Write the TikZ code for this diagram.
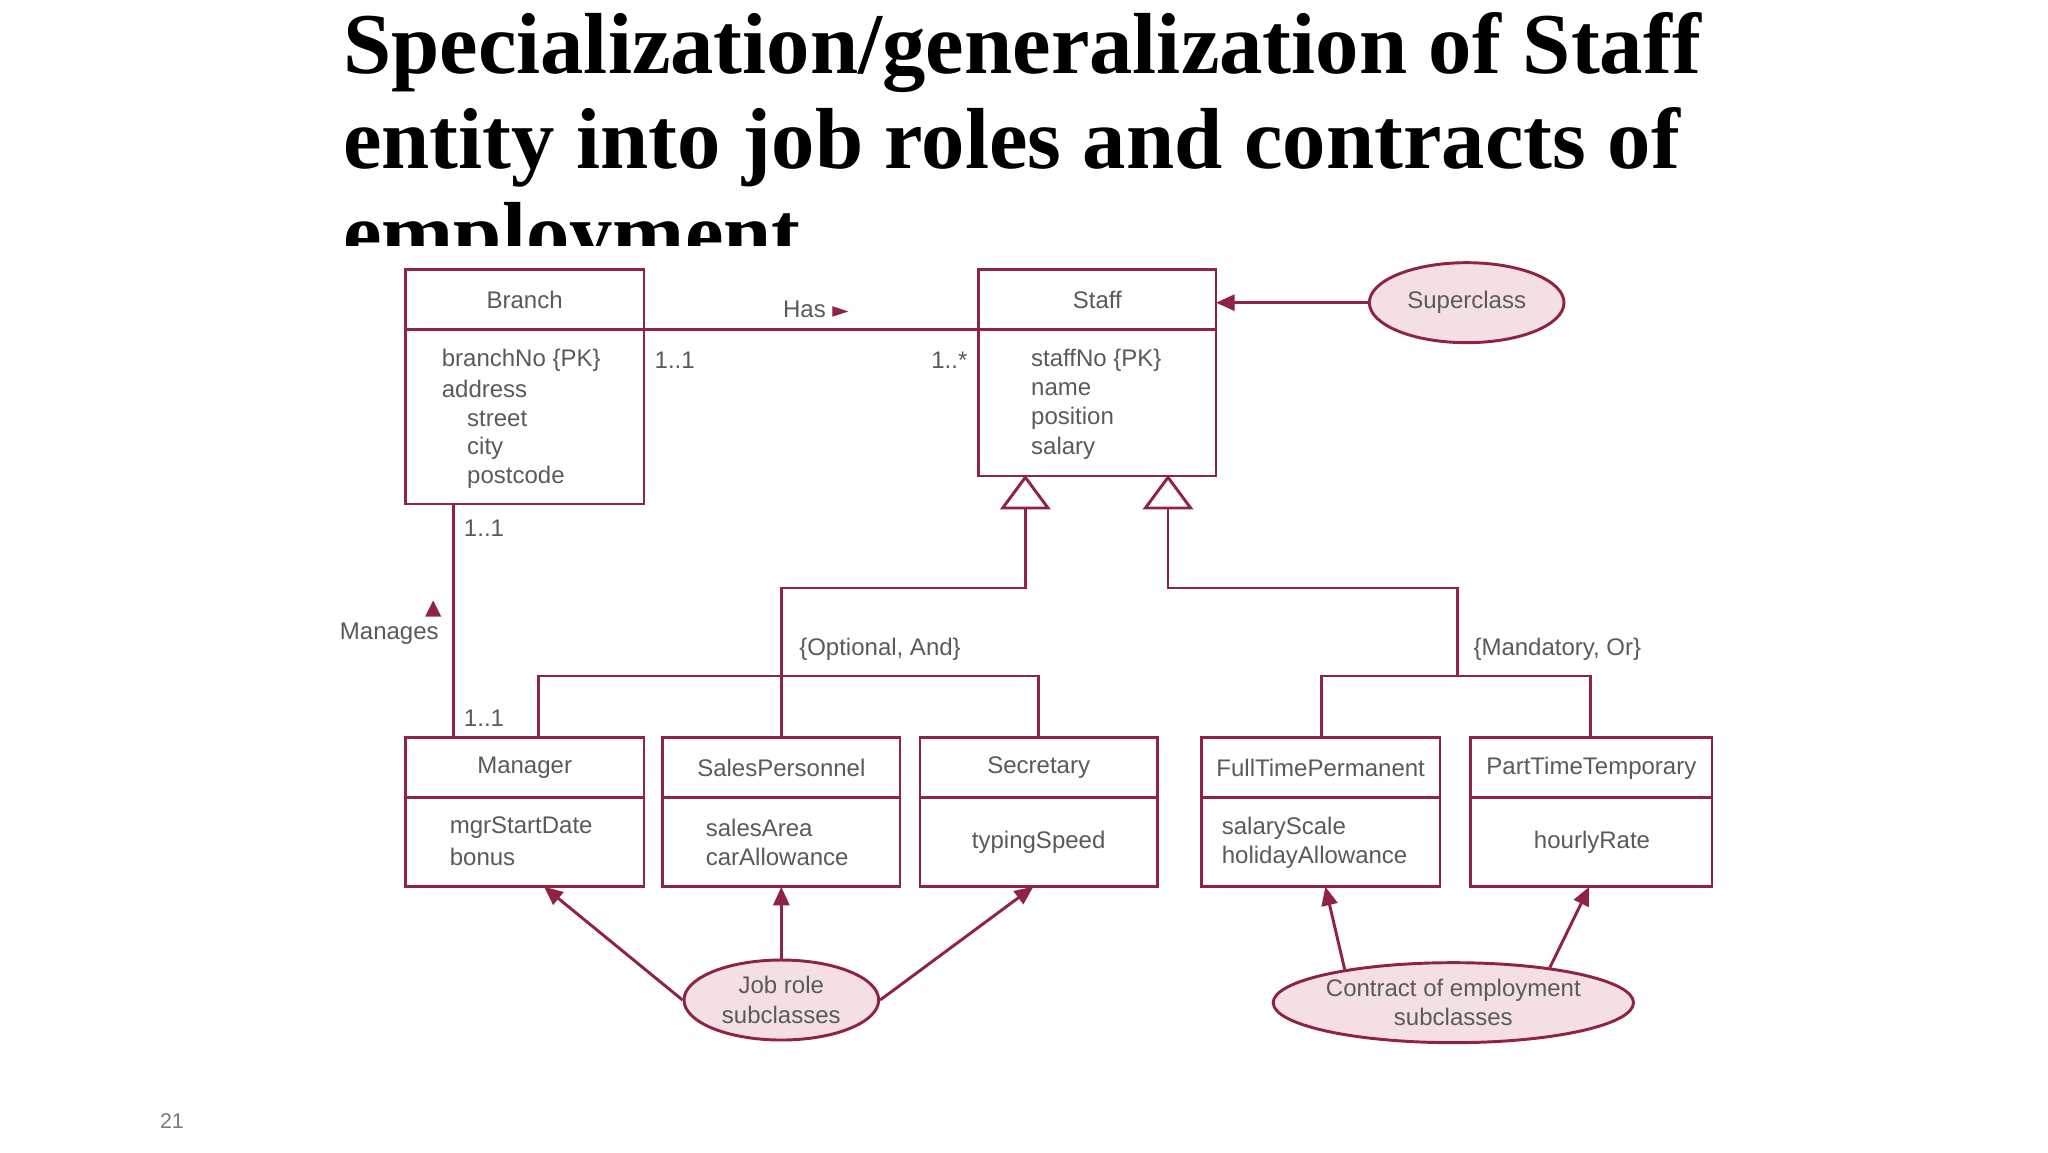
\documentclass[tikz,border=0pt]{standalone}
\usepackage{fontspec}
\setmainfont{Liberation Serif}
\newfontfamily\dsans{Liberation Sans}
\newfontfamily\dvs{DejaVu Sans}
\usetikzlibrary{arrows.meta,shapes.geometric}
\definecolor{mar}{HTML}{8E2344}
\definecolor{pinkf}{HTML}{F4E0E3}
\definecolor{txt}{HTML}{5A5A5A}
\tikzset{
 box/.style={draw=mar,line width=1.1pt,minimum width=89pt,inner sep=0pt},
 lnk/.style={draw=mar,line width=1.1pt},
 arr/.style={lnk,-{Triangle[length=7pt,width=6pt]}},
 ell/.style={ellipse,draw=mar,fill=pinkf,line width=1.1pt,inner sep=0pt,text=txt,font=\dsans\fontsize{9}{11}\selectfont,align=center},
 lab/.style={text=txt,font=\dsans\fontsize{9}{11}\selectfont,inner sep=0pt},
 att/.style={lab,anchor=west,align=left},
}
\begin{document}
\begin{tikzpicture}[x=0.5pt,y=-0.5pt]
\useasboundingbox[fill=white] (0,0) rectangle (1536,864);
% title
\begin{scope}
\clip (0,0) rectangle (1552,184);
\node[anchor=north west,align=left,inner sep=0pt,font=\bfseries\fontsize{32.5}{35.5}\selectfont] (title) at (257,9)
 {Specialization/generalization of Staff\\entity into job roles and contracts of\\employment};
\end{scope}
\node[text=txt!80,font=\dsans\fontsize{8}{9}\selectfont] (pg) at (129,841) {21};
% class boxes
\newcommand\umlbox[6]{% name, x1, y1, x2, y2, title
 \node[box,minimum width=#4*0.5pt-#2*0.5pt,minimum height=#5*0.5pt-#3*0.5pt] (#1) at ({(#2+#4)/2},{(#3+#5)/2}) {};
 \draw[lnk] (#2,#3+45) -- (#4,#3+45);
 \node[lab] (#1t) at ({(#2+#4)/2},#3+23) {#6};}
\umlbox{branch}{304}{202}{483}{378}{Branch}
\umlbox{staff}{734}{202}{912}{357}{Staff}
\umlbox{mgr}{304}{553}{483}{665}{Manager}
\umlbox{sales}{497}{553}{675}{665}{SalesPersonnel}
\umlbox{sec}{690}{553}{868}{665}{Secretary}
\umlbox{ftp}{901}{553}{1080}{665}{FullTimePermanent}
\umlbox{ptt}{1103}{553}{1284}{665}{PartTimeTemporary}
% attributes
\node[att] (ba) at (331,270) {branchNo \{PK\}};
\node[att] (bb) at (331,292) {address};
\node[att] (bc) at (350,314) {street};
\node[att] (bd) at (350,336) {city};
\node[att] (be) at (350,358) {postcode};
\node[att] (sa) at (773,270) {staffNo \{PK\}};
\node[att] (sb) at (773,292) {name};
\node[att] (sc) at (773,314) {position};
\node[att] (sd) at (773,336) {salary};
\node[att] (ma) at (337,621) {mgrStartDate};
\node[att] (mb) at (337,643) {bonus};
\node[att] (pa) at (529,621) {salesArea};
\node[att] (pb) at (529,643) {carAllowance};
\node[lab] (ta) at (779,632) {typingSpeed};
\node[att] (fa) at (916,621) {salaryScale};
\node[att] (fb) at (916,643) {holidayAllowance};
\node[lab] (ha) at (1194,632) {hourlyRate};
% Has association
\draw[lnk] (483,247) coordinate (h1) -- (734,247) coordinate (h2);
\node[lab] (has) at (612,232) {Has {\dvs\textcolor{mar}{\fontsize{8}{8}\selectfont ►}}};
\node[lab] (m1) at (506,270) {1..1};
\node[lab] (m2) at (712,270) {1..*};
% Superclass
\node[ell,minimum width=73pt,minimum height=30pt] (sup) at (1100,227) {Superclass};
\draw[arr] (sup.west) -- (912,227);
% Manages
\draw[lnk] (340,378) coordinate (g1) -- (340,553) coordinate (g2);
\node[lab] (m3) at (363,396) {1..1};
\node[lab] (m4) at (363,539) {1..1};
\node[lab] (mg) at (292,475) {Manages};
\node[text=mar,font=\dvs\fontsize{8}{8}\selectfont] (mt) at (325,457) {▲};
% generalization 1
\draw[lnk] (769,381) -- (769,441) -- (586,441) -- (586,553);
\draw[lnk] (404,553) -- (404,507) -- (779,507) -- (779,553);
\draw[lnk,fill=white] (769,358) -- (786,381) -- (752,381) -- cycle;
\node[lab] (o1) at (660,487) {\{Optional, And\}};
% generalization 2
\draw[lnk] (876,381) -- (876,441) -- (1093,441) -- (1093,507);
\draw[lnk] (991,553) -- (991,507) -- (1193,507) -- (1193,553);
\draw[lnk,fill=white] (876,358) -- (893,381) -- (859,381) -- cycle;
\node[lab] (o2) at (1168,487) {\{Mandatory, Or\}};
% subclass ellipses
\node[ell,minimum width=73pt,minimum height=30pt] (job) at (586,750) {Job role\\subclasses};
\node[ell,minimum width=135pt,minimum height=30pt] (con) at (1090,752) {Contract of employment\\subclasses};
\draw[arr] (job.west) -- (408,665);
\draw[arr] (job.north) -- (586,665);
\draw[arr] (job.east) -- (775,665);
\draw[arr] (con.163) -- (994,665);
\draw[arr] (con.20) -- (1192,665);
\end{tikzpicture}
\end{document}
